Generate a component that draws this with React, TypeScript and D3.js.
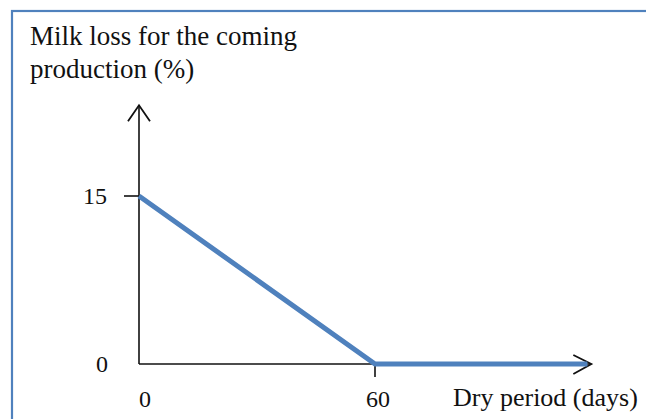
import React from "react";
import * as d3 from "d3";

// dry period (days) vs milk loss (%)
const days = [0, 60, 114];
const loss = [15, 0, 0];
const xTicks = [0, 60];
const yTicks = [15, 0];
const titleLines = ["Milk loss for the coming", "production (%)"];
const xLabel = "Dry period (days)";

const W = 646;
const H = 419;
const FONT = "'Liberation Serif', 'DejaVu Serif', serif";

const App: React.FC = () => {
  const x = d3.scaleLinear().domain([0, 60]).range([139, 375]);
  const y = d3.scaleLinear().domain([0, 15]).range([364, 196]);
  const xMax = 115;
  const yMax = 23.1;

  const pts = days.map((d, i) => [d, loss[i]] as [number, number]);
  const line = d3
    .line<[number, number]>()
    .x((d) => x(d[0]))
    .y((d) => y(d[1]));

  const x0 = x(0);
  const y0 = y(0);
  const xEnd = x(xMax);
  const yTop = y(yMax);

  return (
    <svg
      width={W}
      height={H}
      style={{ position: "fixed", left: 0, top: 0, background: "#fff" }}
      fontFamily={FONT}
    >
      <rect x={12} y={11} width={W + 20} height={H + 20} fill="#fff" stroke="#4f81bd" strokeWidth={2.2} />

      {titleLines.map((t, i) => (
        <text key={t} x={30} y={45 + i * 33} fontSize={27} fill="#111">
          {t}
        </text>
      ))}

      {/* axes */}
      <line x1={x0} y1={y0} x2={x0} y2={yTop} stroke="#111" strokeWidth={1.6} />
      <path
        d={`M${x0 - 11},${yTop + 16} L${x0},${yTop} L${x0 + 11},${yTop + 16}`}
        fill="none"
        stroke="#111"
        strokeWidth={1.8}
      />
      <line x1={x0} y1={y0} x2={xEnd} y2={y0} stroke="#111" strokeWidth={1.6} />
      <path
        d={`M${xEnd - 18},${y0 - 9} L${xEnd},${y0} L${xEnd - 18},${y0 + 10}`}
        fill="none"
        stroke="#111"
        strokeWidth={1.8}
      />

      {/* y ticks */}
      {yTicks.map((t) => (
        <g key={`y${t}`}>
          {t !== 0 && <line x1={x0 - 15} x2={x0} y1={y(t)} y2={y(t)} stroke="#111" strokeWidth={1.6} />}
          <text x={t === 0 ? 102 : 95} y={y(t) + 8} textAnchor="middle" fontSize={24} fill="#111">
            {t}
          </text>
        </g>
      ))}

      {/* x ticks */}
      {xTicks.map((t) => (
        <g key={`x${t}`}>
          {t !== 0 && <line x1={x(t)} x2={x(t)} y1={y0} y2={y0 + 13} stroke="#111" strokeWidth={1.6} />}
          <text x={x(t) + (t === 0 ? 6 : 3)} y={407} textAnchor="middle" fontSize={24} fill="#111">
            {t}
          </text>
        </g>
      ))}

      <text x={453} y={406} fontSize={26} fill="#111">
        {xLabel}
      </text>

      <path d={line(pts) || ""} fill="none" stroke="#4f81bd" strokeWidth={5} />
    </svg>
  );
};

export default App;
